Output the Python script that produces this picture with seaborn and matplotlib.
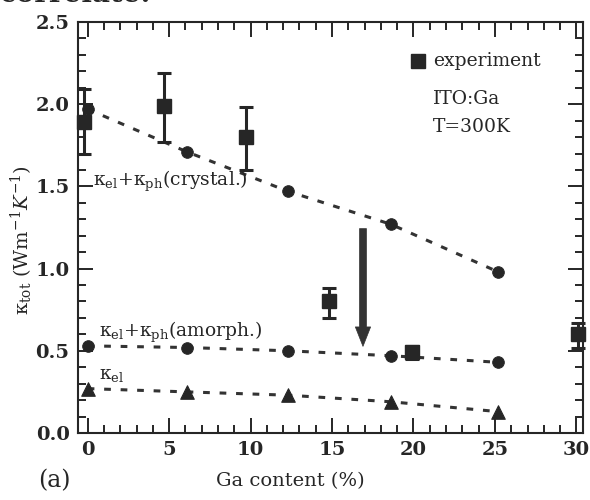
import matplotlib
matplotlib.use("Agg")
import matplotlib.pyplot as plt
from matplotlib.ticker import MultipleLocator, FormatStrFormatter
import seaborn as sns
import pandas as pd

# calculated thermal conductivity (dashed lines)
ga_calc = [0.0, 6.1, 12.3, 18.6, 25.2]
k_crystal = [1.97, 1.71, 1.47, 1.27, 0.98]
k_amorph = [0.53, 0.52, 0.50, 0.47, 0.43]
k_el = [0.27, 0.25, 0.23, 0.19, 0.13]

# experiment (squares with error bars)
ga_exp = [-0.2, 4.7, 9.7, 14.8, 19.9, 30.1]
k_exp = [1.89, 1.99, 1.80, 0.80, 0.49, 0.60]
k_exp_lo = [1.70, 1.77, 1.60, 0.70, 0.45, 0.52]
k_exp_hi = [2.09, 2.19, 1.98, 0.88, 0.53, 0.67]

sns.set_style("ticks")
plt.rcParams["font.family"] = ["DejaVu Serif"]
plt.rcParams["mathtext.fontset"] = "dejavuserif"

calc = pd.DataFrame({"ga": ga_calc * 3,
                     "k": k_crystal + k_amorph + k_el,
                     "curve": ["crystal"] * 5 + ["amorph"] * 5 + ["el"] * 5})

fig = plt.figure(figsize=(5.9, 5.0), dpi=100)
ax = fig.add_axes([0.132, 0.134, 0.856, 0.822])

col = "#262626"
sns.lineplot(data=calc, x="ga", y="k", units="curve", estimator=None,
             color="#333333", lw=2.2, linestyle=(0, (2.2, 3.2)), ax=ax)
circ = calc[calc.curve != "el"]
sns.scatterplot(data=circ, x="ga", y="k", marker="o", s=70, color=col,
                edgecolor=col, ax=ax, zorder=3)
tri = calc[calc.curve == "el"]
sns.scatterplot(data=tri, x="ga", y="k", marker="^", s=95, color=col,
                edgecolor=col, ax=ax, zorder=3)

err_lo = [v - l for v, l in zip(k_exp, k_exp_lo)]
err_hi = [h - v for v, h in zip(k_exp, k_exp_hi)]
eb = ax.errorbar(ga_exp, k_exp, yerr=[err_lo, err_hi], fmt="s", ms=10.5,
                 color=col, ecolor=col, elinewidth=2.2, capsize=5, capthick=2.2, zorder=4)
for art in [eb[0], *eb[1], *eb[2]]:
    art.set_clip_on(False)

# big arrow
ax.annotate("", xy=(16.9, 0.51), xytext=(16.9, 1.26),
            arrowprops=dict(arrowstyle="simple,head_length=1.4,head_width=1.1,tail_width=0.5",
                            color="#333333", lw=0.5), zorder=2)

lbl = dict(fontsize=13.5, va="center", ha="left", color=col)
ax.text(0.3, 1.53, r"κ$_\mathrm{el}$+κ$_\mathrm{ph}$(crystal.)", **lbl)
ax.text(0.7, 0.61, r"κ$_\mathrm{el}$+κ$_\mathrm{ph}$(amorph.)", **lbl)
ax.text(0.7, 0.35, r"κ$_\mathrm{el}$", **lbl)

# legend-like block
ax.plot([20.3], [2.265], "s", ms=10, color=col)
ax.text(21.2, 2.265, "experiment", fontsize=13.5, va="center", color=col)
ax.text(21.2, 2.03, "ITO:Ga", fontsize=13.5, va="center", color=col)
ax.text(21.2, 1.86, "T=300K", fontsize=13.5, va="center", color=col)

ax.set_xlim(-0.6, 30.4)
ax.set_ylim(0, 2.5)
ax.xaxis.set_major_locator(MultipleLocator(5))
ax.xaxis.set_minor_locator(MultipleLocator(1))
ax.yaxis.set_major_locator(MultipleLocator(0.5))
ax.yaxis.set_minor_locator(MultipleLocator(0.1))
ax.yaxis.set_major_formatter(FormatStrFormatter("%.1f"))
ax.tick_params(which="both", direction="in", top=True, right=True, color=col,
               labelsize=14, labelcolor=col, width=1.4)
ax.tick_params(which="major", length=11, pad=6)
ax.tick_params(which="minor", length=6)
for lab in ax.get_xticklabels() + ax.get_yticklabels():
    lab.set_fontweight("bold")
for sp in ax.spines.values():
    sp.set_linewidth(1.5)
    sp.set_color(col)

ax.set_xlabel("Ga content (%)", fontsize=14, color=col)
ax.xaxis.set_label_coords(0.42, -0.095)
ax.set_ylabel(r"κ$_\mathrm{tot}$ (Wm$^{-1}$$K^{-1}$)", fontsize=14, color=col)
ax.yaxis.set_label_coords(-0.085, 0.47)

fig.text(0.065, 0.025, "(a)", fontsize=17, color=col)
fig.text(0.0, 1.012, "correlate.", fontsize=20, fontweight="bold", color=col,
         va="center", ha="left")

fig.savefig("out.png", dpi=100)
